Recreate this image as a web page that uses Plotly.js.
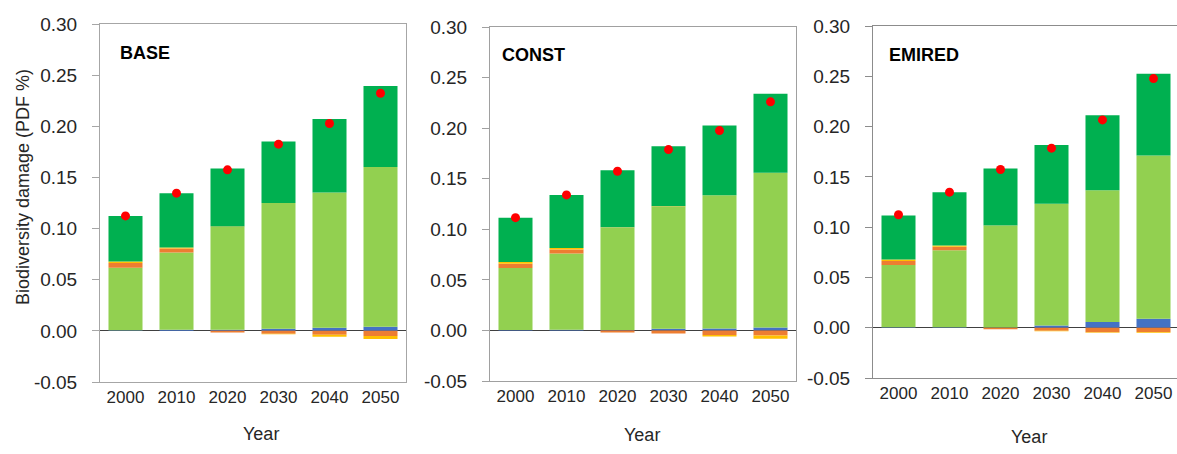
<!DOCTYPE html>
<html>
<head>
<meta charset="utf-8">
<script src="https://cdn.plot.ly/plotly-3.0.1.min.js"></script>
<style>html,body{margin:0;padding:0;background:#fff;}#chart{width:1177px;height:454px;}</style>
</head>
<body>
<div id="chart"></div>
<script>
// ---- Data ----
const years = ['2000', '2010', '2020', '2030', '2040', '2050'];
const scenarios = ['BASE', 'CONST', 'EMIRED'];
const yTicks = [-0.05, 0.00, 0.05, 0.10, 0.15, 0.20, 0.25, 0.30];

// BASE
const baseBlue       = [0.0005, 0.0010, 0.0010, 0.0020, 0.0030, 0.0040];
const baseLightGreen = [0.0613, 0.0755, 0.1006, 0.1231, 0.1322, 0.1563];
const baseOrange     = [0.0045, 0.0040, -0.0016, -0.0028, -0.0038, -0.0050];
const baseYellow     = [0.0015, 0.0010, 0.0004, -0.0006, -0.0020, -0.0030];
const baseDarkGreen  = [0.0446, 0.0531, 0.0567, 0.0600, 0.0720, 0.0792];
const baseNet        = [0.1124, 0.1346, 0.1574, 0.1825, 0.2027, 0.2323];

// CONST
const constBlue       = [0.0005, 0.0007, 0.0005, 0.0016, 0.0020, 0.0030];
const constLightGreen = [0.0612, 0.0753, 0.1013, 0.1207, 0.1316, 0.1530];
const constOrange     = [0.0043, 0.0040, -0.0020, -0.0030, -0.0046, -0.0050];
const constYellow     = [0.0016, 0.0015, 0.0002, 0.0004, -0.0013, -0.0033];
const constDarkGreen  = [0.0439, 0.0525, 0.0564, 0.0594, 0.0690, 0.0779];
const constNet        = [0.1115, 0.1340, 0.1574, 0.1788, 0.1976, 0.2260];

// EMIRED
const emiredBlue       = [0.0005, 0.0005, 0.0003, 0.0023, 0.0056, 0.0089];
const emiredLightGreen = [0.0618, 0.0764, 0.1012, 0.1209, 0.1312, 0.1623];
const emiredOrange     = [0.0040, 0.0036, -0.0016, -0.0030, -0.0045, -0.0042];
const emiredYellow     = [0.0016, 0.0013, 0.0002, -0.0004, -0.0006, -0.0008];
const emiredDarkGreen  = [0.0437, 0.0530, 0.0566, 0.0586, 0.0745, 0.0814];
const emiredNet        = [0.1123, 0.1348, 0.1573, 0.1785, 0.2066, 0.2477];

// ---- Styling ----
const COLORS = {blue: '#4472C4', lightGreen: '#92D050', orange: '#ED7D31', yellow: '#FFC000', darkGreen: '#00B050', dot: '#FF0000'};
const FONT = 'Liberation Sans, Arial, sans-serif';
const W = 1177, H = 454;

const panelData = [
  [baseBlue, baseLightGreen, baseOrange, baseYellow, baseDarkGreen, baseNet],
  [constBlue, constLightGreen, constOrange, constYellow, constDarkGreen, constNet],
  [emiredBlue, emiredLightGreen, emiredOrange, emiredYellow, emiredDarkGreen, emiredNet]
];
const layerColors = [COLORS.blue, COLORS.lightGreen, COLORS.orange, COLORS.yellow, COLORS.darkGreen];

// pixel boxes of each plot area: [left, right, top(0.30), bottom(-0.05)]
const boxes = [[100, 406, 24, 382], [490, 796, 27, 381], [873, 1177, 26, 378]];

const traces = [];
panelData.forEach((arrs, p) => {
  const xa = p === 0 ? 'x' : 'x' + (p + 1);
  const ya = p === 0 ? 'y' : 'y' + (p + 1);
  for (let k = 0; k < 5; k++) {
    traces.push({
      type: 'bar', x: years, y: arrs[k], xaxis: xa, yaxis: ya,
      marker: {color: layerColors[k], line: {width: 0}},
      showlegend: false, hoverinfo: 'y'
    });
  }
  traces.push({
    type: 'scatter', mode: 'markers', x: years, y: arrs[5], xaxis: xa, yaxis: ya,
    marker: {color: COLORS.dot, size: 9}, showlegend: false, hoverinfo: 'y'
  });
});

const layout = {
  width: W, height: H,
  margin: {l: 0, r: 0, t: 0, b: 0, pad: 0},
  paper_bgcolor: '#fff', plot_bgcolor: '#fff',
  barmode: 'relative', bargap: 0.333,
  showlegend: false,
  font: {family: FONT, color: '#1a1a1a'},
  annotations: []
};

const frameColors = ['#a6a6a6', '#a0a0a0', '#8c8c8c'];
boxes.forEach((b, p) => {
  const [l, r, t, bt] = b;
  const sfx = p === 0 ? '' : String(p + 1);
  const cats = (r - l) / 51;
  layout['xaxis' + sfx] = {
    domain: [l / W, r / W], anchor: 'y' + sfx,
    type: 'category', range: [-0.5, -0.5 + cats],
    showline: true, linecolor: frameColors[p], linewidth: 1, mirror: true,
    ticks: '', showgrid: false, zeroline: false,
    tickfont: {family: FONT, size: 17, color: '#262626'},
    automargin: false, fixedrange: true
  };
  layout['yaxis' + sfx] = {
    domain: [1 - bt / H, 1 - t / H], anchor: 'x' + sfx,
    range: [-0.05, 0.30], tickvals: yTicks, ticktext: yTicks.map(v => v.toFixed(2)),
    showline: true, linecolor: frameColors[p], linewidth: 1, mirror: p < 2,
    ticks: 'outside', ticklen: 7, tickcolor: frameColors[p], tickwidth: 1,
    ticklabelstandoff: 11,
    showgrid: false, zeroline: true, zerolinecolor: '#404040', zerolinewidth: 1,
    tickfont: {family: FONT, size: 19, color: '#262626'},
    automargin: false, fixedrange: true
  };
});

// Panel labels
const labelPos = [[118, 53], [500, 55], [887, 55]];
scenarios.forEach((s, p) => {
  layout.annotations.push({
    text: '<b>' + s + '</b>', xref: 'paper', yref: 'paper',
    x: labelPos[p][0] / W, y: 1 - labelPos[p][1] / H,
    xanchor: 'left', yanchor: 'middle', showarrow: false,
    font: {family: FONT, size: 18, color: '#000'}
  });
});
// X axis titles
const yearPos = [[261, 434], [642, 435], [1029, 437]];
yearPos.forEach(pt => {
  layout.annotations.push({
    text: 'Year', xref: 'paper', yref: 'paper',
    x: pt[0] / W, y: 1 - pt[1] / H, xanchor: 'center', yanchor: 'middle',
    showarrow: false, font: {family: FONT, size: 18, color: '#262626'}
  });
});
// Y axis title
layout.annotations.push({
  text: 'Biodiversity damage (PDF %)', xref: 'paper', yref: 'paper',
  x: 23 / W, y: 1 - 187 / H, xanchor: 'center', yanchor: 'middle', textangle: -90,
  showarrow: false, font: {family: FONT, size: 18, color: '#262626'}
});

Plotly.newPlot('chart', traces, layout, {staticPlot: true, displayModeBar: false});
</script>
</body>
</html>
